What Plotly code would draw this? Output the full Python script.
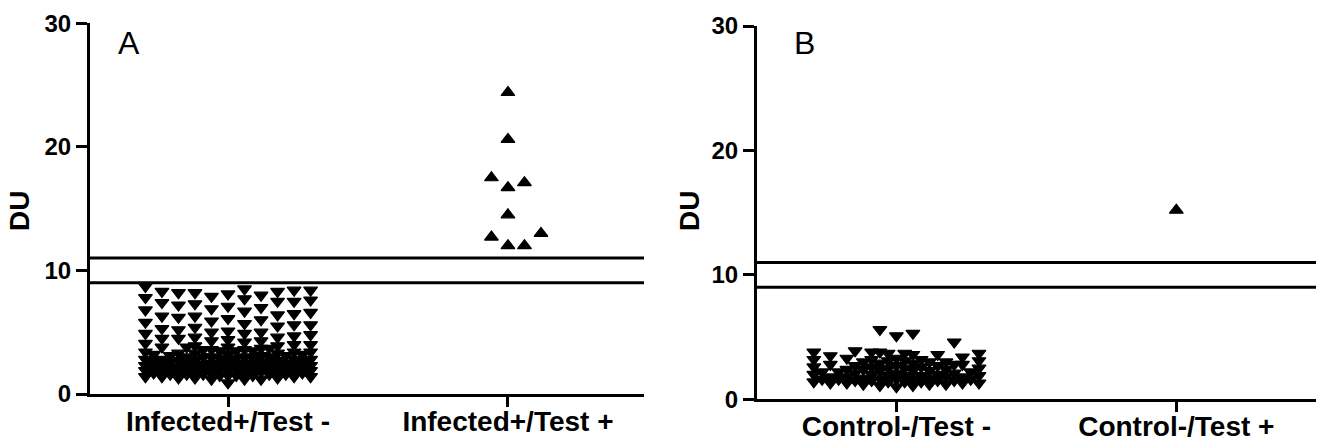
import plotly.graph_objects as go

# ---- data -------------------------------------------------------------
cats_a = ["Infected+/Test -", "Infected+/Test +"]
cats_b = ["Control-/Test -", "Control-/Test +"]

infected_neg = [
    8.7, 8.5, 8.4, 8.4, 8.3, 8.3, 8.2, 8.2, 8.1, 8.0,
    7.9, 7.8, 7.7, 7.6, 7.5, 7.5, 7.4, 7.3, 7.2, 7.1, 7.0,
    6.9, 6.8, 6.7, 6.6, 6.5, 6.4, 6.3, 6.3, 6.2, 6.1, 6.0,
    5.9, 5.8, 5.7, 5.6, 5.6, 5.5, 5.4, 5.3, 5.2, 5.1, 5.0, 5.0,
    4.9, 4.9, 4.8, 4.7, 4.6, 4.6, 4.5, 4.5, 4.4, 4.3, 4.3, 4.2, 4.1, 4.0, 4.0,
    3.9, 3.9, 3.8, 3.8, 3.8, 3.7, 3.7, 3.6, 3.6, 3.6, 3.5, 3.5, 3.5, 3.4, 3.4,
    3.4, 3.3, 3.3, 3.3, 3.2, 3.2, 3.2, 3.1, 3.1, 3.1, 3.0, 3.0, 3.0, 3.0, 3.0,
    2.9, 2.9, 2.9, 2.8, 2.8, 2.8, 2.8, 2.7, 2.7, 2.7, 2.7, 2.6, 2.6, 2.6, 2.6,
    2.5, 2.5, 2.5, 2.5, 2.5, 2.4, 2.4, 2.4, 2.4, 2.3, 2.3, 2.3, 2.3, 2.3, 2.2,
    2.2, 2.2, 2.2, 2.1, 2.1, 2.1, 2.1, 2.1, 2.0, 2.0, 2.0, 2.0, 2.0, 2.0, 2.0,
    1.9, 1.9, 1.9, 1.9, 1.8, 1.8, 1.8, 1.8, 1.8, 1.7, 1.7, 1.7, 1.7, 1.6, 1.6,
    1.6, 1.6, 1.6, 1.5, 1.5, 1.5, 1.5, 1.4, 1.4, 1.4, 1.4, 1.3, 1.3, 1.3, 1.2,
    1.2, 1.2, 0.9,
]
infected_pos = [24.4, 20.6, 17.5, 17.1, 16.7, 14.5, 13.0, 12.7, 12.0, 12.0]

control_neg = [
    5.6, 5.3, 5.1, 4.6,
    3.9, 3.8, 3.8, 3.8, 3.7, 3.7, 3.7, 3.6, 3.6, 3.5,
    3.4, 3.3, 3.3, 3.2, 3.2, 3.2, 3.1, 3.1, 3.1, 3.0, 3.0, 3.0,
    2.9, 2.9, 2.8, 2.8, 2.8, 2.7, 2.7, 2.7, 2.6, 2.6, 2.6, 2.5, 2.5, 2.5,
    2.4, 2.4, 2.4, 2.3, 2.3, 2.3, 2.2, 2.2, 2.2, 2.1, 2.1, 2.1, 2.0, 2.0, 2.0,
    1.9, 1.9, 1.9, 1.9, 1.8, 1.8, 1.8, 1.8, 1.7, 1.7, 1.7, 1.7, 1.6, 1.6, 1.6,
    1.6, 1.5, 1.5, 1.5, 1.5, 1.4, 1.4, 1.4, 1.4, 1.3, 1.3, 1.3, 1.3, 1.2, 1.2,
    1.2, 1.1, 1.1, 1.0,
]
control_pos = [15.2]

cutoffs = [9, 11]
y_ticks = [0, 10, 20, 30]

# ---- column scatter offsets --------------------------------------------
def swarm_offsets(values, w=0.059, h=1.1, max_half_steps=10):
    """Beeswarm-style sideways offsets: symbols of width w (x units) and
    height h (y units) are packed on a half-width grid around the centre;
    when the band is full, the least crowded slot is used."""
    cand = [0]
    for k in range(1, max_half_steps + 1):
        cand += [k, -k]
    cand = [k * w / 2 for k in cand]
    order = sorted(range(len(values)), key=lambda i: values[i])
    placed = []
    offs = [0.0] * len(values)

    def clearance(x, v):
        best = float("inf")
        for px, pv in placed:
            d = max(abs(x - px) / w, abs(v - pv) / h)
            if d < best:
                best = d
        return best

    for i in order:
        v = values[i]
        chosen = None
        for x in cand:
            if clearance(x, v) >= 1 - 1e-9:
                chosen = x
                break
        if chosen is None:
            chosen = max(cand, key=lambda x: clearance(x, v))
        placed.append((chosen, v))
        offs[i] = chosen
    return offs


def xs(center, values):
    return [center + o for o in swarm_offsets(values)]


BLACK = "#000000"
FONT = "Liberation Sans, Arial, sans-serif"

fig = go.Figure()

def add_group(values, center, symbol, xa, ya):
    fig.add_trace(go.Scatter(
        x=xs(center, values), y=values, mode="markers",
        xaxis=xa, yaxis=ya, showlegend=False, hoverinfo="y",
        marker=dict(symbol=symbol, size=12, color=BLACK,
                    line=dict(color=BLACK, width=1.2)),
    ))

add_group(infected_neg, 0, "triangle-down", "x", "y")
add_group(infected_pos, 1, "triangle-up", "x", "y")
add_group(control_neg, 0, "triangle-down", "x2", "y2")
add_group(control_pos, 1, "triangle-up", "x2", "y2")

W, H = 1324, 443

def xaxis_cfg(domain, rng, labels):
    return dict(
        domain=domain, range=rng, tickvals=[0, 1], ticktext=labels,
        showline=True, linewidth=3, linecolor=BLACK, mirror=False,
        ticks="outside", ticklen=10, tickwidth=3, tickcolor=BLACK,
        ticklabelstandoff=-10,
        showgrid=False, zeroline=False, fixedrange=True,
        tickfont=dict(family=FONT, size=28, color=BLACK, weight="bold"),
    )

def yaxis_cfg(domain, anchor):
    return dict(
        domain=domain, range=[0, 30], tickvals=y_ticks, anchor=anchor,
        showline=True, linewidth=3, linecolor=BLACK,
        ticks="outside", ticklen=11, tickwidth=3, tickcolor=BLACK,
        showgrid=False, zeroline=False, fixedrange=True,
        tickfont=dict(family=FONT, size=24, color=BLACK, weight="bold"),
    )

fig.update_layout(
    width=W, height=H,
    margin=dict(l=0, r=0, t=0, b=0, autoexpand=False),
    paper_bgcolor="white", plot_bgcolor="white",
    xaxis=xaxis_cfg([90 / W, 644 / W], [-0.493, 1.486], cats_a) | dict(anchor="y"),
    yaxis=yaxis_cfg([1 - 394 / H, 1 - 23.3 / H], "x"),
    xaxis2=xaxis_cfg([757 / W, 1316 / W], [-0.498, 1.499], cats_b) | dict(anchor="y2"),
    yaxis2=yaxis_cfg([1 - 399.3 / H, 1 - 26 / H], "x2"),
)

# cut-off lines across each panel
for xr, yr in (("x domain", "y"), ("x2 domain", "y2")):
    for c in cutoffs:
        fig.add_shape(type="line", xref=xr, yref=yr, x0=0, x1=1, y0=c, y1=c,
                      line=dict(color=BLACK, width=3))

# panel letters and y titles
for letter, px in (("A", 129), ("B", 804)):
    fig.add_annotation(text=letter, xref="paper", yref="paper",
                       x=px / W, y=1 - 43.5 / H, showarrow=False,
                       xanchor="center", yanchor="middle",
                       font=dict(family=FONT, size=32, color=BLACK))
for px in (19, 689):
    fig.add_annotation(text="DU", xref="paper", yref="paper",
                       x=px / W, y=1 - 211 / H, showarrow=False, textangle=-90,
                       xanchor="center", yanchor="middle",
                       font=dict(family=FONT, size=28, color=BLACK, weight="bold"))

fig.write_html("out.html", config={"displayModeBar": False})
